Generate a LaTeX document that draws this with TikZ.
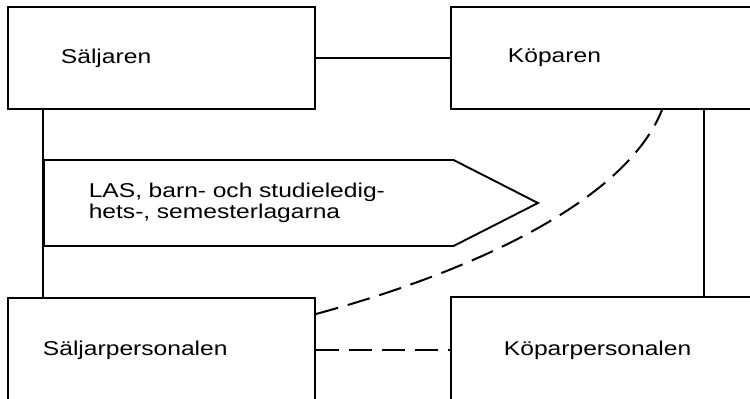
\documentclass[tikz,border=0pt]{standalone}
\usepackage{fontspec}
\setmainfont{Liberation Sans}[FakeStretch=1.23]
\usetikzlibrary{shapes.symbols}

\tikzset{
  box/.style={draw, line width=1.9pt, anchor=north west, minimum height=102pt,
    align=left, font=\fontsize{20}{21}\selectfont},
  lawsign/.style={draw, line width=1.9pt, shape=signal, signal to=east,
    signal pointer angle=54, minimum width=494pt, minimum height=86pt,
    anchor=west, text width=320pt, align=left, font=\fontsize{20}{21}\selectfont},
  tie/.style={line width=1.9pt},
  loosetie/.style={line width=2pt, dash pattern=on 23pt off 10pt}
}

\begin{document}
\begin{tikzpicture}[x=1pt,y=-1pt]

% frame of the page, the right boxes run off it
\useasboundingbox (0,0) rectangle (750,399);
\clip (0,0) rectangle (750,399);

% the four parties
\node[box, inner xsep=53pt, text width=201pt, minimum width=307pt] (saljaren) at (7,6) {Säljaren};
\node[box, inner xsep=57pt, text width=206pt, minimum width=320pt] (koparen) at (450,6) {Köparen};
\node[box, inner xsep=35pt, text width=237pt, minimum width=307pt, minimum height=105pt] (saljarpers) at (7,297) {Säljarpersonalen};
\node[box, inner xsep=53pt, text width=214pt, minimum width=320pt, minimum height=106pt] (koparpers) at (450,296) {Köparpersonalen};

% the laws
\node[lawsign] (lagar) at (43,203) {LAS, barn- och studieledig-\\hets-, semesterlagarna\\[-5pt]};

% solid ties
\draw[tie] (saljaren.east) -- (koparen.west);
\draw[tie] ([xshift=36pt]saljaren.south west) -- ([xshift=36pt]saljarpers.north west);
\draw[tie] ([xshift=254pt]koparen.south west) -- ([xshift=254pt]koparpers.north west);

% dashed ties
\draw[loosetie] (saljarpers.east) -- (saljarpers.east -| koparpers.west);
\draw[loosetie] ([yshift=-17pt]saljarpers.north east)
  .. controls +(130,-35) and +(-40,100) .. ([xshift=212pt]koparen.south west);

\end{tikzpicture}
\end{document}
